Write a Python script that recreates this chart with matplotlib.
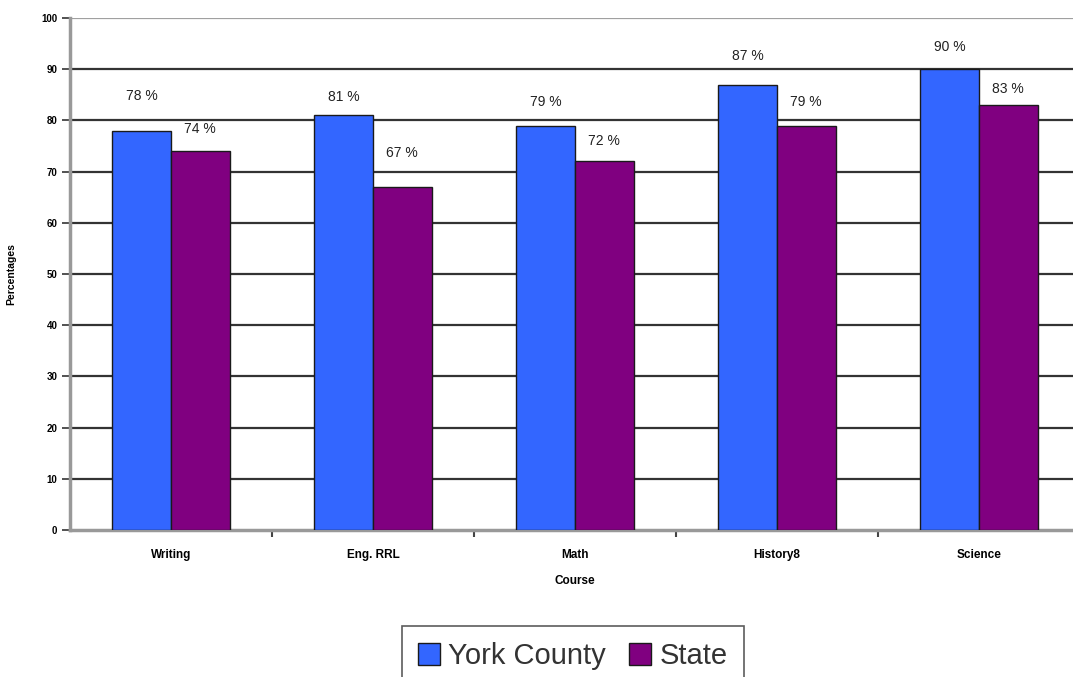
import matplotlib
matplotlib.use("Agg")
import matplotlib.pyplot as plt
import numpy as np
from matplotlib.patches import Patch

plt.rcParams['font.family'] = ['Liberation Sans', 'DejaVu Sans']

courses = ["Writing", "Eng. RRL", "Math", "History8", "Science"]
york_county = [78, 81, 79, 87, 90]
state = [74, 67, 72, 79, 83]
series_names = ["York County", "State"]
y_ticks = [0, 10, 20, 30, 40, 50, 60, 70, 80, 90, 100]

# label offsets above bar tops (style, in data units)
york_off = [6.8, 3.6, 4.6, 5.6, 4.3]
state_off = [4.3, 6.6, 4.0, 4.6, 3.1]

blue = "#3366FF"
purple = "#800080"

fig = plt.figure(figsize=(10.73, 6.77), dpi=100)
W, H = 1073, 677
ax = fig.add_axes([70 / W, 1 - 530 / H, 1010 / W, 512 / H])

x = np.arange(len(courses))
bw = 0.29
off = 0.145
ax.bar(x - off, york_county, bw, color=blue, edgecolor="#1a1a1a", linewidth=1.0, zorder=3)
ax.bar(x + off, state, bw, color=purple, edgecolor="#1a1a1a", linewidth=1.0, zorder=3)

for i in range(len(courses)):
    ax.text(x[i] - off, york_county[i] + york_off[i], f"{york_county[i]} %", ha="center", va="center",
            fontsize=10, color="#222222", zorder=4)
    ax.text(x[i] + off, state[i] + state_off[i], f"{state[i]} %", ha="center", va="center",
            fontsize=10, color="#222222", zorder=4)

ax.set_xlim(-0.5, len(courses) - 0.5)
ax.set_ylim(0, 100)
ax.set_yticks(y_ticks)
ax.set_yticklabels([str(t) for t in y_ticks], fontsize=7, fontweight="bold")
ax.set_xticks(x)
ax.set_xticklabels(courses, fontsize=8.5, fontweight="bold")
ax.tick_params(axis="x", length=0, pad=14)
ax.tick_params(axis="y", length=6, width=1.2, color="#333333", pad=3)
ax.set_xticks(np.arange(0.5, len(courses) - 0.5, 1), minor=True)
ax.tick_params(axis="x", which="minor", length=5, width=1.5, color="#444444", direction="out")

for t in y_ticks[1:-1]:
    ax.axhline(t, color="#333333", linewidth=1.6, zorder=1)
ax.axhline(100, color="#a0a0a0", linewidth=1.6, zorder=1)

for s in ["top", "right"]:
    ax.spines[s].set_visible(False)
ax.spines["left"].set_color("#999999")
ax.spines["left"].set_linewidth(2.5)
ax.spines["bottom"].set_color("#999999")
ax.spines["bottom"].set_linewidth(2.5)

ax.set_xlabel("Course", fontsize=8.5, fontweight="bold", labelpad=10)
ax.set_ylabel("Percentages", fontsize=7.5, fontweight="bold", labelpad=18)

handles = [Patch(facecolor=blue, edgecolor="#1a1a1a", label=series_names[0]),
           Patch(facecolor=purple, edgecolor="#1a1a1a", label=series_names[1])]
leg = fig.legend(handles=handles, loc="upper center", bbox_to_anchor=(573 / W, 1 - 626 / H),
                 ncol=2, fontsize=21, frameon=True, fancybox=False, handlelength=0.75,
                 handleheight=0.75, handletextpad=0.3, columnspacing=0.8, borderpad=0.55,
                 borderaxespad=0)
leg.get_frame().set_edgecolor("#333333")
leg.get_frame().set_linewidth(1.2)
for t in leg.get_texts():
    t.set_color("#333333")

fig.savefig("out.png", dpi=100)
